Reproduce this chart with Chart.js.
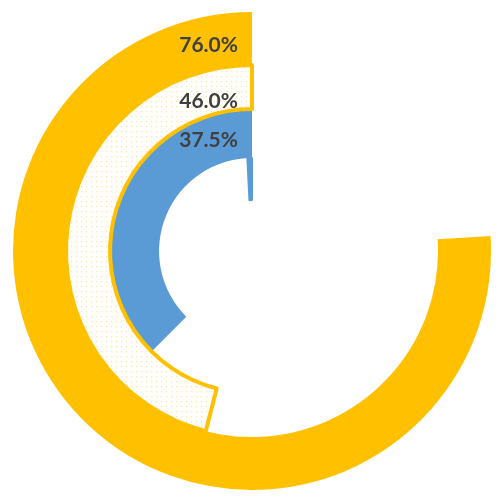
<!DOCTYPE html>
<html>
<head>
<meta charset="utf-8">
<script src="https://cdn.jsdelivr.net/npm/chart.js@4.4.0/dist/chart.umd.min.js"></script>
<style>
  html, body { margin: 0; padding: 0; background: #ffffff; }
  #wrap { width: 500px; height: 500px; }
</style>
</head>
<body>
<div id="wrap"><canvas id="ringChart" width="500" height="500"></canvas></div>
<script>
// ring values, outermost first (percent of a full turn)
const ringNames = ['Outer', 'Middle', 'Inner'];
const ringValues = [76.0, 46.0, 37.5];
// the small start tick inside the blue ring
const tickValue = 0.8;

const yellow = '#FFC000';
const blue = '#5B9BD5';

// dotted fill for the middle ring
function dotPattern() {
    const c = document.createElement('canvas');
    c.width = 5;
    c.height = 5;
    const g = c.getContext('2d');
    g.fillStyle = '#fffefa';
    g.fillRect(0, 0, 5, 5);
    g.fillStyle = 'rgba(240, 205, 110, 0.45)';
    g.fillRect(1, 1, 1.3, 1.3);
    return g.createPattern(c, 'repeat');
}

// remainder first, value second: value then runs back from 12 o'clock
function ring(value, color, border, edge, weight) {
    return {
        data: [100 - value, value],
        backgroundColor: ['rgba(0,0,0,0)', color],
        borderColor: ['rgba(0,0,0,0)', edge],
        borderWidth: [0, border],
        borderJoinStyle: 'round',
        hoverBorderWidth: 0,
        hoverOffset: 0,
        offset: 0,
        weight: weight
    };
}

const ringLabels = {
    id: 'ringLabels',
    afterDatasetsDraw(chart) {
        const ctx = chart.ctx;
        const place = [0.38, 0.18, 0.36];
        ctx.save();
        ctx.font = 'bold 21px Lato, "DejaVu Sans", sans-serif';
        ctx.fillStyle = '#404040';
        ctx.textAlign = 'right';
        ctx.textBaseline = 'middle';
        ringValues.forEach((v, i) => {
            const arc = chart.getDatasetMeta(i).data[1];
            const r = arc.innerRadius + (arc.outerRadius - arc.innerRadius) * place[i];
            ctx.fillText(v.toFixed(1) + '%', arc.x - 14, arc.y - r);
        });
        ctx.restore();
    }
};

const datasets = [
    ring(ringValues[0], yellow, 0, yellow, 53),
    ring(ringValues[1], dotPattern(), 4, yellow, 44),
    ring(ringValues[2], blue, 0, blue, 49),
    ring(tickValue, blue, 2, blue, 42)
];

new Chart(document.getElementById('ringChart'), {
    type: 'doughnut',
    data: {
        labels: ['rest', 'value'],
        datasets: datasets
    },
    options: {
        responsive: false,
        animation: false,
        events: [],
        cutout: '21.3%',
        rotation: 0,
        layout: { padding: { left: 13, right: 9, top: 12, bottom: 10 } },
        plugins: {
            legend: { display: false },
            tooltip: { enabled: false }
        }
    },
    plugins: [ringLabels]
});
</script>
</body>
</html>
